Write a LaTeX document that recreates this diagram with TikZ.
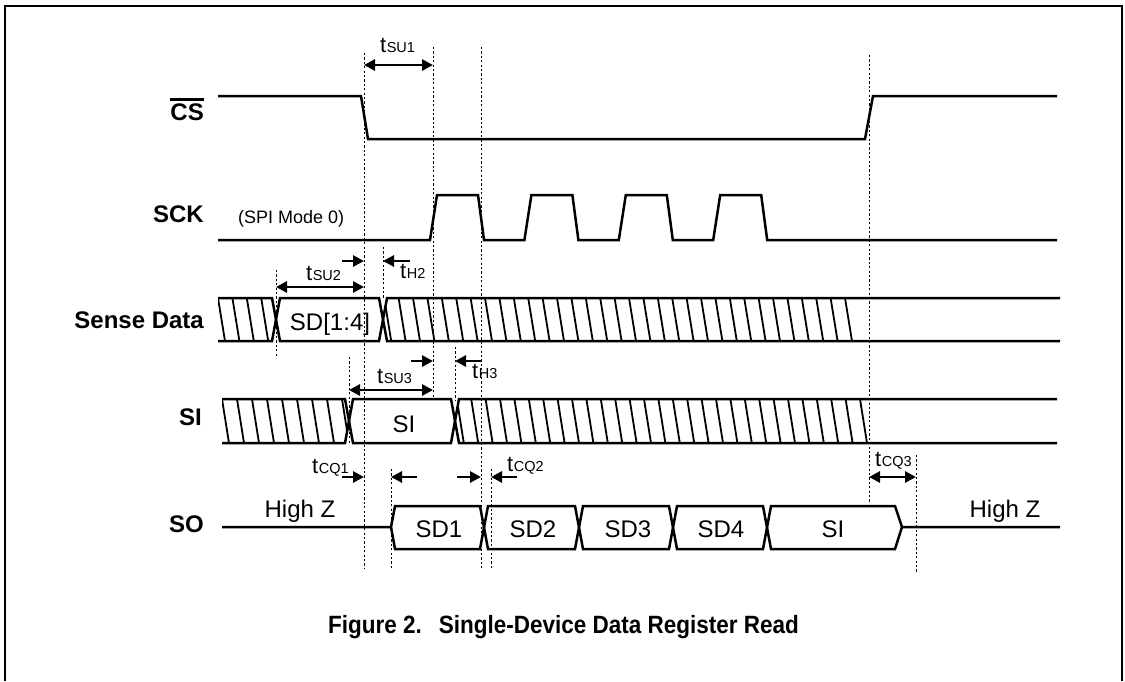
\documentclass[tikz,border=0pt]{standalone}
\usepackage{graphicx}
\usepackage{fontspec}
\setmainfont{Liberation Sans}
\usetikzlibrary{arrows.meta}

\newcommand{\tsub}[1]{{\fontsize{22}{25}\selectfont t\kern0.5pt\fontsize{14.5}{17}\selectfont #1}}

\tikzset{
  sig/.style={line width=2.5pt},
  hatchline/.style={line width=1.8pt},
  guide/.style={line width=0.9pt, dash pattern=on 2.2pt off 2.2pt},
  tarrow/.style={line width=2.8pt, -{Triangle[length=11pt,width=11pt]}},
  tboth/.style={line width=2.8pt, {Triangle[length=11pt,width=11pt]}-{Triangle[length=11pt,width=11pt]}},
  siglabel/.style={font=\bfseries\fontsize{24}{28}\selectfont, anchor=base east, inner sep=0},
  buslabel/.style={font=\fontsize{24}{28}\selectfont, anchor=base, inner sep=0},
  tlabel/.style={anchor=base west, inner sep=0}
}

\begin{document}
\begin{tikzpicture}[x=1pt,y=-1pt]
  \useasboundingbox (0,0) rectangle (1125,681);
  \fill[white] (0,0) rectangle (1125,681);
  \draw[line width=2pt] (5,681) -- (5,6) -- (1122,6) -- (1122,681);

  % signal names
  \node[siglabel] (lblCS) at (204,120) {CS};
  \draw[line width=2.3pt] ([yshift=3.5pt]lblCS.north west) -- ([yshift=3.5pt]lblCS.north east);
  \node[siglabel] (lblSCK) at (204,222) {SCK};
  \node[siglabel] (lblSD) at (204,328) {Sense Data};
  \node[siglabel] (lblSI) at (202,425) {SI};
  \node[siglabel] (lblSO) at (204,532) {SO};

  % dotted guides
  \foreach \x/\ya/\yb in {364/53/568, 433/47/397, 481/47/568, 383/247/298,
      276/270/358, 349/357/445, 455/347/400, 391/469/568, 491/469/568,
      869/55/503, 916/455/572}
    \draw[guide] (\x,\ya) -- (\x,\yb);

  % CS
  \draw[sig] (218,96) -- (361,96) -- (368,139) -- (865,139) -- (873,96) -- (1057,96);

  % SCK
  \draw[sig] (218,240) \foreach \k in {0,...,3} { -- ({430+94.4*\k},240) -- ({437+94.4*\k},195)
      -- ({478+94.4*\k},195) -- ({484+94.4*\k},240) } -- (1057,240);
  \node[font=\fontsize{18}{21}\selectfont, anchor=base west, inner sep=0] (mode) at (238,223) {(SPI Mode 0)};

  % Sense Data
  \begin{scope}
    \clip (218,298) -- (272,298) -- (276,319.5) -- (272,341) -- (218,341) -- cycle;
    \foreach \x in {218,232.4,...,262} \draw[hatchline] (\x,298) -- ++(7,43);
  \end{scope}
  \begin{scope}
    \clip (383,319.5) -- (387,298) -- (870,298) -- (870,341) -- (387,341) -- cycle;
    \foreach \k in {0,...,32} \draw[hatchline] ({845-14.4*\k},298) -- ++(7,43);
  \end{scope}
  \draw[sig] (218,298) -- (272,298) -- (280,341) -- (379,341) -- (387,298) -- (1060,298);
  \draw[sig] (218,341) -- (272,341) -- (280,298) -- (379,298) -- (387,341) -- (1060,341);
  \node[buslabel] (sd14) at (330,330) {SD[1:4]};

  % SI
  \begin{scope}
    \clip (222,399) -- (345,399) -- (349,421) -- (345,443) -- (222,443) -- cycle;
    \foreach \x in {222,237,...,342} \draw[hatchline] (\x,399) -- ++(7,44);
  \end{scope}
  \begin{scope}
    \clip (455,421) -- (459,399) -- (880,399) -- (880,443) -- (459,443) -- cycle;
    \foreach \k in {0,...,28} \draw[hatchline] ({860-14.4*\k},399) -- ++(7,44);
  \end{scope}
  \draw[sig] (222,399) -- (345,399) -- (353,443) -- (451,443) -- (459,399) -- (1057,399);
  \draw[sig] (222,443) -- (345,443) -- (353,399) -- (451,399) -- (459,443) -- (1057,443);
  \node[buslabel] (siin) at (404,432) {SI};

  % SO
  \draw[sig] (222,527) -- (391,527) -- (395,506) -- (480,506) -- (488,549) -- (575,549) -- (583,506)
      -- (669,506) -- (677,549) -- (763,549) -- (771,506) -- (895,506) -- (902,527) -- (1060,527);
  \draw[sig] (391,527) -- (395,549) -- (480,549) -- (488,506) -- (575,506) -- (583,549) -- (669,549)
      -- (677,506) -- (763,506) -- (771,549) -- (895,549) -- (902,527);
  \node[buslabel] (hzl) at (300,517) {High Z};
  \node[buslabel] (hzr) at (1005,517) {High Z};
  \node[buslabel] (sd1) at (439,537) {SD1};
  \node[buslabel] (sd2) at (533,537) {SD2};
  \node[buslabel] (sd3) at (628,537) {SD3};
  \node[buslabel] (sd4) at (721,537) {SD4};
  \node[buslabel] (siout) at (833,537) {SI};

  % timing
  \draw[tboth] (364,65) -- (433,65);
  \node[tlabel] (tsu1) at (380,52) {\tsub{SU1}};
  \draw[tarrow] (342,261) -- (364,261);
  \draw[tarrow] (410,261) -- (383,261);
  \draw[tboth] (276,287) -- (364,287);
  \node[tlabel] (tsu2) at (306,280) {\tsub{SU2}};
  \node[tlabel] (th2) at (400,278) {\tsub{H2}};
  \draw[tarrow] (411,361) -- (433,361);
  \draw[tarrow] (481,361) -- (455,361);
  \draw[tboth] (349,390) -- (433,390);
  \node[tlabel] (tsu3) at (377,383) {\tsub{SU3}};
  \node[tlabel] (th3) at (472,378) {\tsub{H3}};
  \draw[tarrow] (342,477) -- (364,477);
  \draw[tarrow] (417,477) -- (391,477);
  \draw[tarrow] (457,477) -- (481,477);
  \draw[tarrow] (517,477) -- (491,477);
  \draw[tboth] (869,477) -- (916,477);
  \node[tlabel] (tcq1) at (312,473) {\tsub{CQ1}};
  \node[tlabel] (tcq2) at (507,471) {\tsub{CQ2}};
  \node[tlabel] (tcq3) at (875,466) {\tsub{CQ3}};

  % caption
  \node[anchor=base west, inner sep=0, font=\bfseries\fontsize{25}{30}\selectfont] (caption) at (328,633)
    {\scalebox{0.9}[1]{Figure 2.\hspace{0.75em}Single-Device Data Register Read}};
\end{tikzpicture}
\end{document}
